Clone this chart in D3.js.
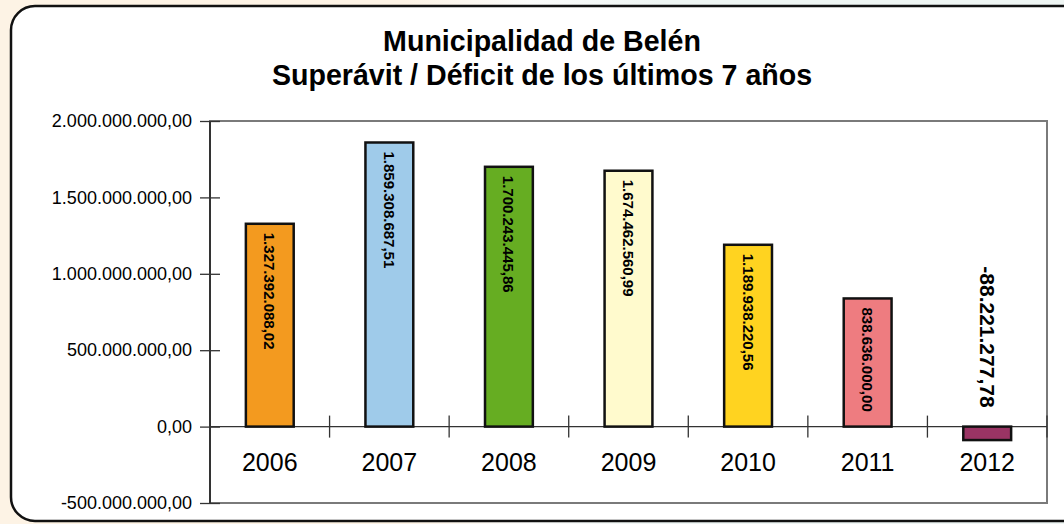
<!DOCTYPE html>
<html>
<head>
<meta charset="utf-8">
<script src="https://cdn.jsdelivr.net/npm/d3@7"></script>
<style>
  body { margin: 0; background: #fff; }
  text { font-family: Arial, "Liberation Sans", sans-serif; }
</style>
</head>
<body>
<div id="chart"></div>
<script>
// data
var years = ["2006", "2007", "2008", "2009", "2010", "2011", "2012"];
var values = [1327392088.02, 1859308687.51, 1700243445.86, 1674462560.99, 1189938220.56, 838636000.00, -88221277.78];
var labels = ["1.327.392.088,02", "1.859.308.687,51", "1.700.243.445,86", "1.674.462.560,99", "1.189.938.220,56", "838.636.000,00", "-88.221.277,78"];
var colors = ["#f39a1f", "#9fcbea", "#66ad22", "#fffacd", "#ffd320", "#ee7c80", "#9a3464"];
var yTicks = [-500000000, 0, 500000000, 1000000000, 1500000000, 2000000000];
var yTickLabels = ["-500.000.000,00", "0,00", "500.000.000,00", "1.000.000.000,00", "1.500.000.000,00", "2.000.000.000,00"];
var titleLines = ["Municipalidad de Belén", "Superávit / Déficit de los últimos 7 años"];

var W = 1064, H = 524;
var svg = d3.select("#chart").append("svg")
    .attr("width", W)
    .attr("height", H);

// background outside the frame
var defs = svg.append("defs");
var grad = defs.append("linearGradient").attr("id", "bg").attr("x1", 0).attr("x2", 1).attr("y1", 0).attr("y2", 0);
grad.append("stop").attr("offset", "0%").attr("stop-color", "#fdf3e5");
grad.append("stop").attr("offset", "38%").attr("stop-color", "#fdf3e5");
grad.append("stop").attr("offset", "50%").attr("stop-color", "#fbfcfb");
grad.append("stop").attr("offset", "62%").attr("stop-color", "#eef5f3");
grad.append("stop").attr("offset", "100%").attr("stop-color", "#eef5f3");
svg.append("rect").attr("width", W).attr("height", H).attr("fill", "url(#bg)");

// frame
svg.append("rect")
    .attr("x", 11).attr("y", 6)
    .attr("width", 1080).attr("height", 515)
    .attr("rx", 24).attr("ry", 24)
    .attr("fill", "#fff")
    .attr("stroke", "#111")
    .attr("stroke-width", 2.5);

var margin = {top: 121, left: 210, right: 17, bottom: 21};
var width = W - margin.left - margin.right,
    height = H - margin.top - margin.bottom;

var g = svg.append("g")
    .attr("transform", "translate(" + margin.left + "," + margin.top + ")");

var x = d3.scaleBand()
    .domain(years)
    .range([0, width])
    .paddingInner(0).paddingOuter(0);

var y = d3.scaleLinear()
    .domain([-500000000, 2000000000])
    .range([height, 0]);

// plot area border (top/right/bottom)
g.append("rect")
    .attr("x", 0).attr("y", 0)
    .attr("width", width).attr("height", height)
    .attr("fill", "none")
    .attr("stroke", "#7a7a7a")
    .attr("stroke-width", 2);

// y axis
var yAxis = d3.axisLeft(y)
    .tickValues(yTicks)
    .tickFormat(function(d, i) { return yTickLabels[i]; })
    .tickSize(10)
    .tickPadding(8);
var ya = g.append("g").call(yAxis);
ya.select(".domain").remove();
ya.selectAll(".tick line").attr("x2", 10).attr("x1", -10).attr("stroke", "#333").attr("stroke-width", 1.3);
ya.selectAll(".tick text")
    .attr("x", -18)
    .style("font-size", "18px")
    .attr("fill", "#000");
g.append("line")
    .attr("x1", 0).attr("x2", 0)
    .attr("y1", 0).attr("y2", height)
    .attr("stroke", "#333").attr("stroke-width", 2);

// zero line with category separators
g.append("line")
    .attr("x1", 0).attr("x2", width)
    .attr("y1", y(0)).attr("y2", y(0))
    .attr("stroke", "#333").attr("stroke-width", 1.3);
g.selectAll(".sep").data(years.slice(1).concat(["end"])).enter().append("line")
    .attr("class", "sep")
    .attr("x1", function(d, i) { return x.step() * (i + 1); })
    .attr("x2", function(d, i) { return x.step() * (i + 1); })
    .attr("y1", y(0) - 11).attr("y2", y(0) + 11)
    .attr("stroke", "#333").attr("stroke-width", 1.3);

// x labels
g.selectAll(".xl").data(years).enter().append("text")
    .attr("class", "xl")
    .attr("x", function(d) { return x(d) + x.bandwidth() / 2; })
    .attr("y", y(0) + 44)
    .attr("text-anchor", "middle")
    .style("font-size", "25px")
    .text(function(d) { return d; });

// bars
var bw = x.bandwidth() * 0.4;
g.selectAll(".bar").data(values).enter().append("rect")
    .attr("class", "bar")
    .attr("x", function(d, i) { return x(years[i]) + (x.bandwidth() - bw) / 2; })
    .attr("y", function(d) { return y(Math.max(0, d)); })
    .attr("width", bw)
    .attr("height", function(d) { return Math.abs(y(d) - y(0)); })
    .attr("fill", function(d, i) { return colors[i]; })
    .attr("stroke", "#111")
    .attr("stroke-width", 2.5);

// value labels (rotated)
g.selectAll(".vl").data(values).enter().append("text")
    .attr("class", "vl")
    .attr("transform", function(d, i) {
        var cx = x(years[i]) + x.bandwidth() / 2;
        var ty = d >= 0 ? y(d) + 9 : y(0) - 19;
        return "translate(" + cx + "," + ty + ") rotate(90)";
    })
    .attr("text-anchor", function(d) { return d >= 0 ? "start" : "end"; })
    .attr("dominant-baseline", "central")
    .style("font-size", function(d) { return d >= 0 ? "15px" : "21px"; })
    .style("font-weight", "bold")
    .text(function(d, i) { return labels[i]; });

// title
svg.selectAll(".title").data(titleLines).enter().append("text")
    .attr("class", "title")
    .attr("x", 542)
    .attr("y", function(d, i) { return 51 + i * 34; })
    .attr("text-anchor", "middle")
    .style("font-size", "28.6px")
    .style("font-weight", "bold")
    .text(function(d) { return d; });
</script>
</body>
</html>
